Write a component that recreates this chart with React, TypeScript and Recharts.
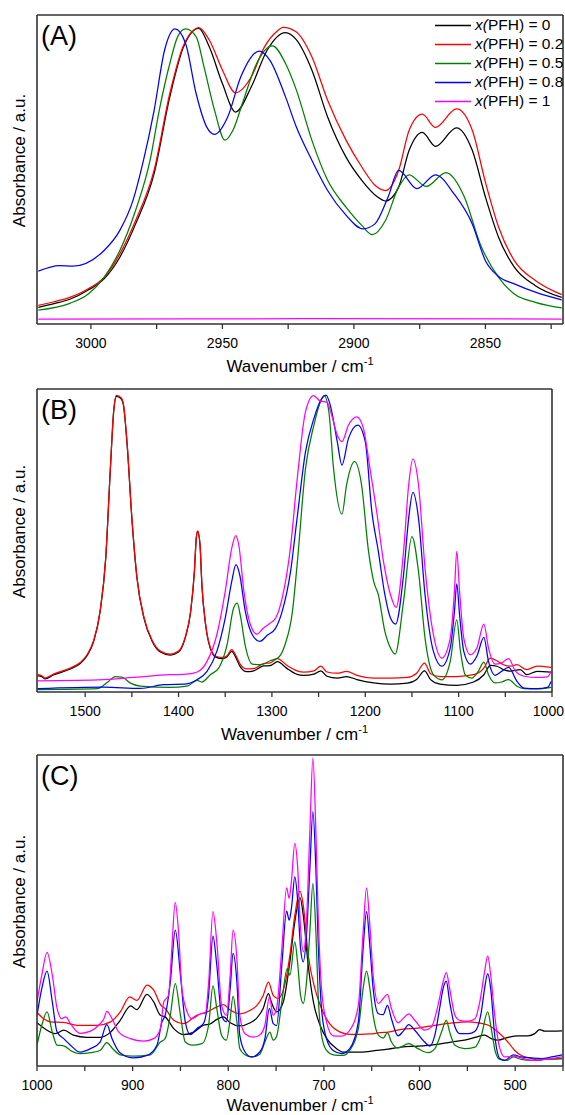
import React from 'react';
import { LineChart, Line, XAxis, YAxis, Legend } from 'recharts';

type Pt = [number, number];

const FONT = '"Liberation Sans", Arial, Helvetica, sans-serif';
const SERIES_LABELS = ['0', '0.2', '0.5', '0.8', '1'];
const SERIES_COLORS = ['#000000', '#ff0000', '#008000', '#0000ff', '#ff00ff'];

// ---------- Panel A (C-H stretch region) ----------
const A_TICKS = [2825, 2850, 2875, 2900, 2925, 2950, 2975, 3000];
const A_BLACK: Pt[] = [
  [3020, 5.4], [3014, 6.6], [3008, 8.0], [3001, 11.0], [2995, 14.6], [2989, 21.6], [2983, 32.4], [2976, 48.6],
  [2970, 73.5], [2965, 89.2], [2959, 95.7], [2955, 89.7], [2950, 77.8], [2945, 68.6], [2939, 76.8], [2933, 88.6],
  [2926, 94.3], [2922, 92.1], [2916, 82.2], [2910, 67.0], [2903, 54.0], [2897, 46.5], [2891, 41.1], [2888, 39.8],
  [2883, 44.3], [2879, 56.2], [2874, 62.0], [2869, 57.5], [2861, 63.5], [2855, 56.2], [2850, 41.1], [2845, 28.1],
  [2839, 18.4], [2831, 12.4], [2821, 8.6],
];
const A_RED: Pt[] = [
  [3020, 6.05], [3014, 7.2], [3008, 8.6], [3001, 11.4], [2995, 15.1], [2989, 22.7], [2983, 33.5], [2976, 49.7],
  [2970, 74.6], [2965, 89.7], [2961, 95.1], [2959, 95.9], [2955, 91.9], [2950, 82.2], [2945, 74.8], [2939, 80.0],
  [2934, 89.7], [2929, 94.9], [2927, 96.0], [2922, 94.6], [2916, 86.5], [2910, 72.4], [2903, 59.5], [2897, 50.8],
  [2892, 44.9], [2888, 43.2], [2883, 49.7], [2879, 62.7], [2874, 67.9], [2869, 63.6], [2861, 69.6], [2855, 62.7],
  [2850, 45.9], [2845, 31.4], [2839, 20.5], [2831, 14.1], [2821, 9.5],
];
const A_GREEN: Pt[] = [
  [3020, 4.5], [3008, 6.7], [3001, 9.7], [2995, 15.1], [2989, 23.8], [2983, 36.8], [2977.5, 53.0], [2974, 69.2],
  [2970, 84.3], [2967, 93.0], [2964, 95.5], [2960, 93.0], [2957, 83.2], [2953, 69.2], [2949, 59.5], [2946, 62.7],
  [2942, 72.4], [2937, 84.3], [2931, 90.0], [2926, 84.3], [2922, 76.0], [2916, 59.5], [2910, 46.5], [2903, 37.8],
  [2897, 31.9], [2893, 28.9], [2888, 33.5], [2883, 44.3], [2879, 48.3], [2872.5, 44.5], [2865, 49.0], [2858, 41.1],
  [2852, 25.9], [2845, 15.1], [2839, 9.7], [2831, 7.0], [2821, 5.2],
];
const A_BLUE: Pt[] = [
  [3020, 17.1], [3012, 18.9], [3007, 18.7], [2995, 23.8], [2989, 30.3], [2984, 40.0], [2980, 53.0], [2976, 69.0],
  [2972, 88.6], [2968, 95.5], [2964, 90.8], [2960, 74.6], [2956, 63.8], [2953, 61.4], [2948, 67.0], [2943, 80.0],
  [2936, 88.3], [2932, 85.4], [2926, 73.5], [2922, 64.0], [2916, 53.0], [2910, 43.2], [2903.5, 35.7], [2896.5, 30.8],
  [2892, 32.4], [2887, 41.1], [2883, 49.7], [2876, 43.8], [2869, 48.3], [2862, 42.2], [2855, 32.4], [2850, 20.5],
  [2845, 15.4], [2839, 13.0], [2831, 10.3], [2821, 7.8],
];
const A_MAGENTA: Pt[] = [[3020, 1.6], [2920, 1.7], [2821, 1.6]];

// ---------- Panel B (1550-1000) ----------
const B_TICKS = [1000, 1050, 1100, 1150, 1200, 1250, 1300, 1350, 1400, 1450, 1500];
const B_BLACK: Pt[] = [
  [1551, 5.4], [1546, 5.0], [1543, 4.3], [1534, 5.6], [1516, 7.6], [1505, 9.5], [1498, 12.0], [1491, 16.6],
  [1484, 26.5], [1478, 44.0], [1473, 73.7], [1469.5, 92.4], [1466.5, 97.6], [1461.5, 96.8], [1459, 94.6], [1455, 81.4],
  [1450, 57.3], [1444.5, 37.5], [1437, 24.3], [1428, 16.6], [1419.5, 13.2], [1409, 12.2], [1400, 13.2], [1393, 17.7],
  [1387, 26.5], [1383, 39.7], [1381, 50.7], [1379.5, 52.9], [1377, 48.5], [1375, 35.3], [1371, 22.1], [1366, 14.4],
  [1360, 11.5], [1353, 11.0], [1348, 11.6], [1343, 13.4], [1339, 11.6], [1334, 8.4], [1327, 6.7], [1319.5, 7.0],
  [1309, 8.6], [1302, 8.7], [1294, 10.0], [1284, 7.8], [1273, 5.8], [1266, 5.5], [1255, 5.9], [1247.5, 7.0],
  [1241, 5.2], [1230, 4.6], [1220, 5.1], [1209, 4.1], [1191, 3.0], [1173, 2.6], [1155, 2.9], [1145, 4.1],
  [1136.5, 7.0], [1130, 4.1], [1120, 2.6], [1102, 2.2], [1084, 3.3], [1073, 5.7], [1066, 8.8], [1059, 8.5],
  [1052, 7.4], [1045, 6.9], [1034, 7.4], [1027, 5.7], [1016, 6.8], [1001, 6.6],
];
const B_RED: Pt[] = [
  [1551, 5.7], [1546, 5.3], [1543, 4.6], [1534, 5.9], [1516, 7.9], [1505, 9.8], [1498, 12.3], [1491, 16.9],
  [1484, 26.8], [1478, 44.3], [1473, 74.0], [1469.5, 92.7], [1466.5, 97.9], [1461.5, 97.1], [1459, 94.9], [1455, 81.7],
  [1450, 57.6], [1444.5, 37.8], [1437, 24.6], [1428, 16.9], [1419.5, 13.5], [1409, 12.5], [1400, 13.5], [1393, 18.0],
  [1387, 26.8], [1383, 40.0], [1381, 51.0], [1379.5, 53.2], [1377, 48.8], [1375, 35.6], [1371, 22.4], [1366, 14.7],
  [1360, 11.8], [1353, 11.4], [1348, 12.0], [1343, 14.0], [1339, 12.3], [1334, 9.2], [1327, 7.6], [1319, 7.8],
  [1309, 9.4], [1302, 9.6], [1294, 11.0], [1284, 8.8], [1273, 7.0], [1266, 6.6], [1255, 7.0], [1247.5, 8.5],
  [1241, 6.6], [1230, 6.2], [1220, 6.8], [1209, 5.5], [1191, 4.6], [1173, 4.6], [1155, 4.8], [1145, 6.2],
  [1136.5, 9.5], [1130, 6.0], [1120, 5.1], [1102, 5.1], [1084, 5.7], [1073, 7.9], [1066, 11.2], [1059, 10.3],
  [1052, 9.0], [1045, 8.5], [1037.5, 9.0], [1027, 7.4], [1016, 8.5], [1001, 8.1],
];
const B_GREEN: Pt[] = [
  [1551, 0.8], [1487, 1.1], [1475, 3.5], [1468, 5.1], [1460.5, 4.9], [1452, 3.0], [1441, 1.9], [1409, 1.5],
  [1391, 1.9], [1380, 3.8], [1375, 3.3], [1366, 5.7], [1357, 7.9], [1348, 15.6], [1341, 27.7], [1337, 29.3],
  [1334, 25.5], [1328, 14.5], [1321, 9.2], [1312, 9.0], [1302, 10.3], [1293, 11.4], [1286, 15.6], [1278, 26.6],
  [1273, 42.0], [1264, 73.8], [1255, 88.1], [1248, 95.8], [1244, 97.8], [1239, 92.5], [1234, 73.8], [1225, 58.7],
  [1220, 68.4], [1211.5, 76.0], [1204, 68.4], [1196.5, 46.4], [1191, 36.5], [1186, 32.1], [1179, 20.0], [1173, 14.5],
  [1168, 12.5], [1159, 29.9], [1150, 51.3], [1143, 39.8], [1136, 17.8], [1127, 5.7], [1118, 4.0], [1109, 10.1],
  [1102, 23.8], [1098, 13.4], [1093, 5.7], [1086, 4.6], [1079, 6.8], [1073, 9.9], [1068, 5.7], [1061, 3.0],
  [1054, 3.3], [1046.5, 4.1], [1037.5, 1.9], [1030, 1.1], [1016, 1.0], [1001, 1.5],
];
const B_BLUE: Pt[] = [
  [1551, 1.1], [1480, 1.6], [1441, 1.2], [1416, 2.4], [1391, 2.7], [1380, 4.1], [1369.5, 6.8], [1359, 13.4],
  [1350, 24.4], [1343, 36.5], [1338.5, 42.0], [1334.5, 38.7], [1328.5, 26.6], [1321, 18.9], [1313, 16.7], [1305, 18.7],
  [1296, 21.1], [1289, 26.6], [1280, 39.8], [1273, 57.4], [1264, 79.3], [1255, 90.3], [1246.5, 96.9], [1242, 98.0],
  [1237.5, 94.7], [1230, 82.6], [1225, 74.9], [1218, 83.7], [1208, 88.1], [1200, 82.6], [1193, 59.6], [1186, 46.4],
  [1179, 32.1], [1173, 24.4], [1167.5, 22.4], [1159, 38.7], [1153.5, 57.4], [1149, 65.9], [1143, 57.4], [1136, 32.1],
  [1127, 13.4], [1118, 8.5], [1109, 14.5], [1104.5, 26.6], [1102, 35.7], [1099, 25.5], [1094.5, 13.4], [1087.5, 9.2],
  [1080.5, 11.8], [1073, 18.0], [1068, 10.1], [1061, 5.5], [1054, 6.8], [1046.5, 8.1], [1037.5, 3.5], [1030, 1.3],
  [1016, 1.1], [1005, 1.5], [1001, 3.5],
];
const B_MAGENTA: Pt[] = [
  [1551, 3.7], [1480, 4.1], [1445, 4.9], [1409, 5.7], [1391, 5.9], [1380, 6.6], [1369.5, 10.1], [1359, 18.9],
  [1350, 33.2], [1343, 47.5], [1338.7, 51.6], [1335.5, 48.6], [1330, 33.2], [1323, 22.2], [1316, 19.1], [1309, 21.1],
  [1302, 22.7], [1296, 24.4], [1289, 31.0], [1280, 48.0], [1273, 70.0], [1264, 92.5], [1255.5, 97.8], [1248, 96.0],
  [1241, 95.6], [1236, 91.4], [1230, 84.8], [1225, 82.6], [1218, 88.1], [1209, 90.8], [1202, 87.0], [1195, 73.8],
  [1187.5, 58.9], [1180.5, 43.1], [1173, 32.1], [1167, 27.9], [1159, 46.4], [1153.5, 68.4], [1149, 76.9], [1143, 68.4],
  [1136, 40.9], [1127, 18.9], [1118, 11.2], [1109, 17.8], [1104.5, 33.2], [1102, 46.4], [1099, 33.2], [1094.5, 17.8],
  [1087.5, 12.3], [1080.5, 14.5], [1073, 22.4], [1068, 14.5], [1061, 9.2], [1054, 9.6], [1046.5, 11.0], [1039, 6.8],
  [1030, 5.2], [1016, 4.8], [1005, 5.0], [1001, 6.8],
];

// ---------- Panel C (1000-450) ----------
const C_TICKS = [450, 500, 550, 600, 650, 700, 750, 800, 850, 900, 950, 1000];
const C_BLACK: Pt[] = [
  [1000, 13.9], [989.5, 11.5], [981, 10.4], [972, 11.5], [962, 9.9], [948, 9.2], [934, 9.2], [923, 10.9],
  [913, 14.7], [902, 19.3], [895.5, 18.1], [885, 23.0], [878, 20.6], [871, 16.3], [866, 15.8], [857, 12.0],
  [847, 10.1], [836, 10.9], [826, 13.1], [819, 13.5], [812, 15.0], [805, 15.8], [798, 13.9], [788, 12.9],
  [777, 13.9], [770, 15.5], [763.5, 18.5], [758, 23.3], [755, 20.6], [749.5, 17.4], [742.5, 20.6], [735.6, 33.5],
  [730.4, 46.4], [725, 54.1], [721.6, 48.5], [716.4, 32.4], [711, 20.6], [704, 13.1], [697, 8.8], [687, 5.6],
  [680, 4.5], [662, 4.5], [645, 5.0], [633, 5.4], [619, 6.1], [601.6, 6.4], [584, 6.9], [567, 7.7],
  [553, 8.3], [542, 9.2], [532, 9.9], [525, 8.8], [518, 8.3], [507.5, 9.2], [497, 9.7], [486.6, 9.7],
  [479.6, 10.4], [474.4, 11.7], [469, 11.2], [462, 11.2], [451, 11.3],
];
const C_RED: Pt[] = [
  [1000, 17.2], [993, 15.2], [986, 14.2], [972, 14.0], [958, 13.1], [937, 13.1], [923, 14.2], [913, 17.4],
  [903, 22.2], [895.5, 21.1], [885, 26.0], [878, 24.4], [870.4, 19.5], [866, 18.5], [857, 14.7], [847, 13.6],
  [833, 16.3], [822, 17.4], [812, 19.0], [805, 19.7], [798, 18.0], [788, 16.8], [777, 17.9], [770, 19.5],
  [763.5, 22.7], [758, 27.0], [753, 22.7], [748, 21.7], [741, 26.0], [735.6, 35.6], [730.4, 48.5], [725, 56.2],
  [721.6, 51.7], [716.4, 35.6], [709.4, 24.9], [702.5, 18.5], [694, 13.6], [683, 10.9], [673, 10.2], [662, 10.2],
  [652, 10.3], [641.5, 10.7], [633, 10.9], [619, 11.8], [601.6, 12.2], [584, 13.1], [567, 13.8], [549, 14.2],
  [538.8, 13.9], [528, 13.1], [518, 10.9], [507.5, 7.7], [500.5, 5.0], [493.5, 3.4], [483, 2.4], [474.4, 1.8],
  [469, 2.4], [462, 2.2], [451, 2.4],
];
const C_GREEN: Pt[] = [
  [1000, 6.7], [995, 13.1], [989.5, 17.4], [984, 10.9], [979, 6.7], [972, 6.5], [965, 5.0], [955, 4.0],
  [944, 4.3], [934, 5.0], [927, 7.5], [921.5, 5.8], [913, 3.6], [899, 3.2], [881.5, 3.6], [871, 7.7],
  [866, 8.8], [860.6, 16.3], [855.4, 26.5], [850, 16.3], [845, 7.7], [838, 6.7], [827.5, 7.2], [820.6, 13.1],
  [816, 25.8], [812, 18.5], [807, 9.9], [802, 8.3], [798, 15.2], [795, 22.5], [791, 14.2], [788, 5.6],
  [782.5, 3.6], [775.6, 2.9], [767, 3.8], [761.7, 7.7], [756.5, 10.9], [753, 8.3], [749.5, 9.5], [744, 20.6],
  [738.4, 31.3], [735.6, 29.2], [730.4, 39.9], [727.6, 33.5], [724.4, 22.7], [721.6, 20.1], [718.2, 27.0], [714.7, 43.1],
  [711.5, 58.7], [708.4, 43.1], [706, 22.7], [702.5, 9.9], [697.3, 5.0], [690.3, 3.6], [680, 3.4], [673, 5.0],
  [664, 12.0], [659, 24.9], [655.4, 30.5], [652, 25.0], [648.5, 16.3], [643, 9.9], [638, 9.0], [633.6, 10.7],
  [629.4, 7.7], [622.5, 5.8], [611.3, 7.2], [601.6, 5.6], [591, 4.3], [584, 5.6], [577, 10.9], [572, 14.7],
  [568.5, 10.9], [563, 6.7], [553, 5.6], [542, 6.1], [535.4, 9.9], [528.7, 17.4], [525, 12.0], [520.7, 4.5],
  [516, 2.1], [509, 1.8], [502, 2.9], [493.5, 2.1], [483, 1.8], [469, 2.1], [451, 2.4],
];
const C_BLUE: Pt[] = [
  [1000, 16.3], [995, 24.9], [989.5, 30.5], [984, 20.6], [979, 10.9], [972, 8.8], [965, 6.7], [955, 4.5],
  [944, 5.6], [934, 7.7], [927, 13.3], [921.5, 8.8], [913, 4.2], [899, 2.6], [885, 3.4], [874.6, 6.7],
  [869.3, 14.2], [866, 16.3], [860.6, 27.0], [855.4, 43.7], [850, 29.2], [845, 14.2], [839.7, 10.1], [833, 12.0],
  [826, 13.6], [820.6, 22.7], [816, 41.8], [812, 32.4], [807, 16.3], [802, 14.2], [798, 24.9], [795, 36.2],
  [791, 27.0], [788, 9.9], [782.5, 4.5], [775.6, 2.9], [767, 4.5], [761.7, 8.8], [757, 18.5], [753, 13.6],
  [749.5, 13.0], [744, 32.4], [739, 49.8], [736.3, 46.9], [734, 50.6], [730.4, 60.8], [727.6, 53.9], [724.4, 37.8],
  [721.6, 33.5], [718.2, 42.1], [714.7, 63.5], [711.5, 81.8], [708.4, 63.5], [706, 39.9], [702.5, 18.5], [697.3, 8.8],
  [690.3, 5.0], [681.6, 4.0], [673, 5.6], [664, 14.2], [659, 37.8], [655.4, 49.6], [652, 38.8], [648.5, 24.9],
  [643, 16.8], [638, 16.5], [633.6, 19.5], [629.4, 15.2], [622.5, 9.7], [617, 11.2], [611.3, 13.3], [605, 11.5],
  [594.6, 7.7], [589.4, 6.4], [584, 9.9], [579, 18.5], [575.4, 24.9], [572, 27.3], [568.5, 20.6], [563, 12.6],
  [558, 10.4], [549, 10.4], [542, 11.2], [535.4, 17.4], [532, 24.9], [528.7, 29.7], [525.6, 24.9], [521.4, 9.9],
  [516, 2.4], [511, 1.8], [502, 3.6], [493.5, 2.9], [483, 2.6], [472.6, 2.4], [462, 2.9], [451, 3.6],
];
const C_MAGENTA: Pt[] = [
  [1000, 20.6], [995, 29.2], [989.5, 36.5], [984, 29.2], [979, 18.5], [974, 15.2], [970, 15.8], [965, 13.6],
  [955, 10.5], [944, 11.2], [935.5, 13.1], [930, 15.2], [927, 17.6], [921.5, 15.2], [914.5, 10.9], [902.5, 8.8],
  [888.5, 8.0], [878, 8.8], [871, 12.0], [867.5, 20.6], [862.5, 22.7], [859, 37.8], [855.5, 52.6], [852, 43.1],
  [848.5, 24.9], [843, 17.4], [838, 15.2], [829, 16.8], [824, 17.0], [820.5, 27.0], [816, 49.6], [812, 39.9],
  [807, 19.5], [802, 16.3], [798, 29.2], [795, 43.7], [791, 34.5], [788, 16.3], [782.5, 10.4], [774, 9.3],
  [767, 10.0], [761.7, 13.1], [757, 22.2], [753, 16.3], [749.5, 18.5], [744, 37.8], [739, 57.3], [736.3, 53.9],
  [734, 59.2], [730.4, 71.6], [727.6, 64.6], [724.4, 44.2], [721.6, 36.7], [718.2, 46.4], [714.7, 75.3], [711.5, 99.1],
  [708.4, 75.3], [706, 48.5], [702.5, 24.9], [697.3, 14.2], [690.3, 9.7], [681.6, 9.6], [673, 11.5], [664, 19.5],
  [659, 43.1], [655.4, 57.3], [652, 45.3], [648.5, 29.2], [643, 20.1], [638, 21.7], [633.6, 23.0], [629.4, 18.5],
  [622.5, 13.9], [615.5, 15.8], [611.3, 16.8], [605, 14.7], [594.6, 11.5], [587.6, 12.5], [580.7, 19.5], [575.4, 27.0],
  [572, 30.0], [568.5, 24.9], [563, 16.3], [558, 14.7], [549, 14.4], [542, 15.2], [537, 20.6], [532, 30.3],
  [528.7, 35.4], [525.6, 29.2], [521.4, 16.3], [516, 5.6], [511, 2.9], [502, 3.2], [493.5, 2.6], [483, 1.8],
  [472.6, 2.0], [462, 2.4], [451, 2.9],
];

const toRows = (pts: Pt[]) => pts.map(([x, y]) => ({ x, y }));

const FRAME = '#333333';

const renderLegend = () => (
  <div style={{ fontFamily: FONT, fontSize: 15.5, color: '#000', whiteSpace: 'nowrap' }}>
    {SERIES_LABELS.map((v, i) => (
      <div key={v} style={{ display: 'flex', alignItems: 'center', height: 19 }}>
        <svg width={36} height={19} style={{ display: 'block' }}>
          <line x1={0} x2={36} y1={9.5} y2={9.5} stroke={SERIES_COLORS[i]} strokeWidth={1.3} />
        </svg>
        <span style={{ marginLeft: 4 }}>
          <i>x(</i>PFH) = {v}
        </span>
      </div>
    ))}
  </div>
);

const makeYLabel = (letter: string) => (props: any) => {
  const vb = props.viewBox || { x: 36, y: 15, width: 1, height: 300 };
  const left = vb.x + vb.width;
  const tx = left - 18;
  const cy = vb.y + vb.height / 2 - 9;
  return (
    <g>
      <text
        x={tx}
        y={cy}
        transform={`rotate(-90 ${tx} ${cy})`}
        textAnchor="middle"
        dominantBaseline="central"
        fontSize={17}
        fontFamily={FONT}
        fill="#000"
      >
        Absorbance / a.u.
      </text>
      <text x={left + 4} y={vb.y + 30} fontSize={27} fontFamily={FONT} fill="#000">
        ({letter})
      </text>
    </g>
  );
};

const makeXLabel = (drop: number) => (props: any) => {
  const vb = props.viewBox || { x: 37, y: 300, width: 500, height: 30 };
  const cx = vb.x + vb.width / 2;
  return (
    <text x={cx} y={vb.y + drop} textAnchor="middle" fontSize={17} fontFamily={FONT} fill="#000">
      Wavenumber / cm
      <tspan dy={-7} fontSize={11}>-1</tspan>
    </text>
  );
};

const makeTick = (labelStep: number) => (props: any) => {
  const { x, y, payload } = props;
  const v = payload?.value as number;
  if (v % labelStep !== 0) return <g />;
  const label = String(v);
  const halfW = label.length * 3.9;
  const cx = Math.min(x, 564 - halfW);
  return (
    <text x={cx} y={y} dy="0.71em" textAnchor="middle" fontSize={14} fontFamily={FONT} fill="#000">
      {label}
    </text>
  );
};

interface PanelProps {
  letter: string;
  top: number;
  height: number;
  margin: { top: number; right: number; bottom: number; left: number };
  domain: [number, number];
  ticks: number[];
  labelStep: number;
  series: Pt[][];
  titleDrop: number;
  legend?: boolean;
}

function Panel({ letter, top, height, margin, domain, ticks, labelStep, series, titleDrop, legend }: PanelProps) {
  return (
    <div style={{ position: 'absolute', left: 0, top, width: 565, height }}>
      <LineChart width={565} height={height} margin={margin}>
        <XAxis
          xAxisId="b"
          dataKey="x"
          type="number"
          domain={domain}
          allowDataOverflow
          reversed
          ticks={ticks}
          interval={0}
          tick={makeTick(labelStep)}
          tickSize={5}
          tickMargin={9}
          tickLine={{ stroke: FRAME, strokeWidth: 1.3 }}
          axisLine={{ stroke: FRAME, strokeWidth: 1.6 }}
          height={30}
          label={makeXLabel(titleDrop)}
        />
        <XAxis
          xAxisId="t"
          orientation="top"
          dataKey="x"
          type="number"
          domain={domain}
          allowDataOverflow
          reversed
          tick={false}
          tickLine={false}
          axisLine={{ stroke: FRAME, strokeWidth: 1.6 }}
          height={1}
        />
        <YAxis
          yAxisId="l"
          type="number"
          domain={[0, 100]}
          allowDataOverflow
          tick={false}
          tickLine={false}
          axisLine={{ stroke: FRAME, strokeWidth: 1.6 }}
          width={1}
          label={makeYLabel(letter)}
        />
        <YAxis
          yAxisId="r"
          orientation="right"
          type="number"
          domain={[0, 100]}
          allowDataOverflow
          tick={false}
          tickLine={false}
          axisLine={{ stroke: FRAME, strokeWidth: 1.6 }}
          width={1}
        />
        {legend && (
          <Legend
            layout="vertical"
            align="center"
            verticalAlign="middle"
            content={renderLegend}
            wrapperStyle={{ top: 15.5, left: 435, width: 135, height: 95 }}
          />
        )}
        {series.map((pts, i) => (
          <Line
            key={SERIES_LABELS[i]}
            xAxisId="b"
            yAxisId="l"
            name={`x(PFH) = ${SERIES_LABELS[i]}`}
            data={toRows(pts)}
            dataKey="y"
            type="monotone"
            stroke={SERIES_COLORS[i]}
            strokeWidth={1.25}
            dot={false}
            activeDot={false}
            isAnimationActive={false}
          />
        ))}
      </LineChart>
    </div>
  );
}

export default function App() {
  return (
    <div style={{ position: 'absolute', left: 0, top: 0, width: 565, height: 1115, background: '#fff', overflow: 'hidden' }}>
      <Panel
        letter="A"
        top={0}
        height={385}
        margin={{ top: 14, right: 1, bottom: 31, left: 36 }}
        domain={[2820.5, 3020.5]}
        ticks={A_TICKS}
        labelStep={50}
        series={[A_BLACK, A_RED, A_GREEN, A_BLUE, A_MAGENTA]}
        titleDrop={48}
        legend
      />
      <Panel
        letter="B"
        top={375}
        height={372}
        margin={{ top: 13, right: 12, bottom: 25, left: 36 }}
        domain={[1000, 1551.6]}
        ticks={B_TICKS}
        labelStep={100}
        series={[B_BLACK, B_RED, B_GREEN, B_BLUE, B_MAGENTA]}
        titleDrop={48}
      />
      <Panel
        letter="C"
        top={740}
        height={375}
        margin={{ top: 14, right: 1, bottom: 19, left: 36 }}
        domain={[450, 1000]}
        ticks={C_TICKS}
        labelStep={100}
        series={[C_BLACK, C_RED, C_GREEN, C_BLUE, C_MAGENTA]}
        titleDrop={45}
      />
    </div>
  );
}
